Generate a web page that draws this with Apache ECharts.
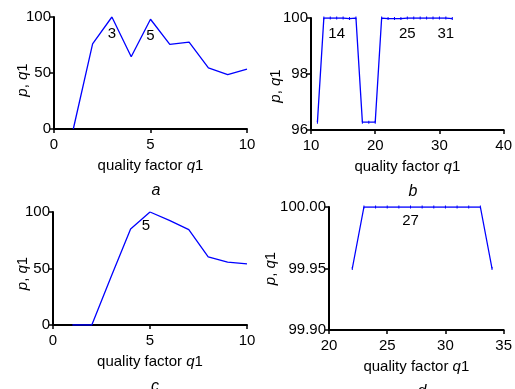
<!DOCTYPE html>
<html><head><meta charset="utf-8">
<script src="https://cdn.jsdelivr.net/npm/echarts@6/dist/echarts.min.js"></script>
<style>html,body{margin:0;padding:0;background:#fff}#c{width:515px;height:389px}</style>
</head><body><div id="c"></div>
<script>
// Panel a
const xA = [1,2,3,4,5,6,7,8,9,10];
const yA = [0,76,100,64.5,98,75.5,77.5,54.5,48.5,53.5];
const labA = {3:'3', 5:'5'};
// Panel b
const xB = [11,12,13,14,15,16,17,18,19,20,21,22,23,24,25,26,27,28,29,30,31,32];
const yB = [96.28,100,100,100,100,99.98,100,96.28,96.28,96.28,100,99.98,99.98,99.98,100,100,100,100,100,100,100,99.98];
const labB = {14:'14', 25:'25', 31:'31'};
// Panel c
const xC = [1,2,3,4,5,6,7,8,9,10];
const yC = [0,0,43,85,100,92.6,84.4,60.3,55.6,54.1];
const labC = {5:'5'};
// Panel d
const xD = [22,23,24,25,26,27,28,29,30,31,32,33,34];
const yD = [99.95,100,100,100,100,100,100,100,100,100,100,100,99.95];
const labD = {27:'27'};
// axis ticks
const axA = {xmin:0,xmax:10,xint:5,ymin:0,ymax:100,yint:50,dec:0};
const axB = {xmin:10,xmax:40,xint:10,ymin:96,ymax:100,yint:2,dec:0};
const axC = {xmin:0,xmax:10,xint:5,ymin:0,ymax:100,yint:50,dec:0};
const axD = {xmin:20,xmax:35,xint:5,ymin:99.9,ymax:100,yint:0.05,dec:2};
const panelLetters = ['a','b','c','d'];

const FONT = 'Liberation Sans, Arial, Helvetica, sans-serif';
const grids = [
  {left:54, width:193, top:17, height:112},
  {left:311, width:193, top:18, height:112},
  {left:53, width:194, top:212, height:113},
  {left:329, width:175, top:207, height:123}
];
const axes = [axA, axB, axC, axD];
const xs = [xA, xB, xC, xD];
const ys = [yA, yB, yC, yD];
const labs = [labA, labB, labC, labD];
const nameGapY = [24, 28, 23, 51];
const namePad = [[0,14,0,0],[0,24,0,0],[0,10,0,0],[0,0,0,0]];
const labOff = [[0,0],[0,0],[-4,0],[0,0]];
const labDist = [9, 7, 6, 5];
const italicRich = {i:{fontStyle:'italic', fontSize:15, fontFamily:FONT, color:'#000'}};
const axisCommon = {
  axisLine:{show:true, lineStyle:{color:'#000', width:2}},
  axisTick:{show:true, length:4, lineStyle:{color:'#000', width:1.5}},
  splitLine:{show:false}
};
const xAxis = [], yAxis = [], series = [], title = [];
axes.forEach((ax, i) => {
  xAxis.push(Object.assign({}, axisCommon, {
    gridIndex:i, type:'value', min:ax.xmin, max:ax.xmax, interval:ax.xint,
    name:'quality factor {i|q}1', nameLocation:'middle', nameGap:29,
    nameTextStyle:{color:'#000', fontSize:15, fontFamily:FONT, rich:italicRich},
    axisLabel:{color:'#000', fontSize:15, fontFamily:FONT, margin:8}
  }));
  yAxis.push(Object.assign({}, axisCommon, {
    gridIndex:i, type:'value', min:ax.ymin, max:ax.ymax, interval:ax.yint,
    name:'{i|p}, {i|q}1', nameLocation:'middle', nameGap:nameGapY[i], nameRotate:90,
    nameMoveOverlap:false,
    nameTextStyle:{color:'#000', fontSize:15, fontFamily:FONT, rich:italicRich, padding:namePad[i]},
    axisLabel:{color:'#000', fontSize:15, fontFamily:FONT, margin:3,
      formatter: v => Number(v).toFixed(ax.dec)}
  }));
  const data = xs[i].map((x, k) => {
    const item = {value:[x, ys[i][k]]};
    if (labs[i][x] !== undefined) {
      item.label = {show:true, position:'bottom', distance:labDist[i], formatter:labs[i][x],
        color:'#000', fontSize:15, fontFamily:FONT, offset:labOff[i]};
    }
    return item;
  });
  const tickMarks = (i===1||i===3);
  series.push({
    type:'line', xAxisIndex:i, yAxisIndex:i, data:data,
    showSymbol:true, symbol:'rect', symbolSize: tickMarks ? [1,3] : 0,
    itemStyle:{color:'#0000ff'},
    lineStyle:{color:'#0000ff', width:1.3}, animation:false, silent:true
  });
  const g = grids[i];
  title.push({text:panelLetters[i], left:g.left + g.width/2 - 4, top:g.top + g.height + 49,
    textStyle:{fontStyle:'italic', fontWeight:'normal', fontSize:16, fontFamily:FONT, color:'#000'}});
});
const chart = echarts.init(document.getElementById('c'));
chart.setOption({animation:false, grid:grids, xAxis, yAxis, series, title});
</script></body></html>
